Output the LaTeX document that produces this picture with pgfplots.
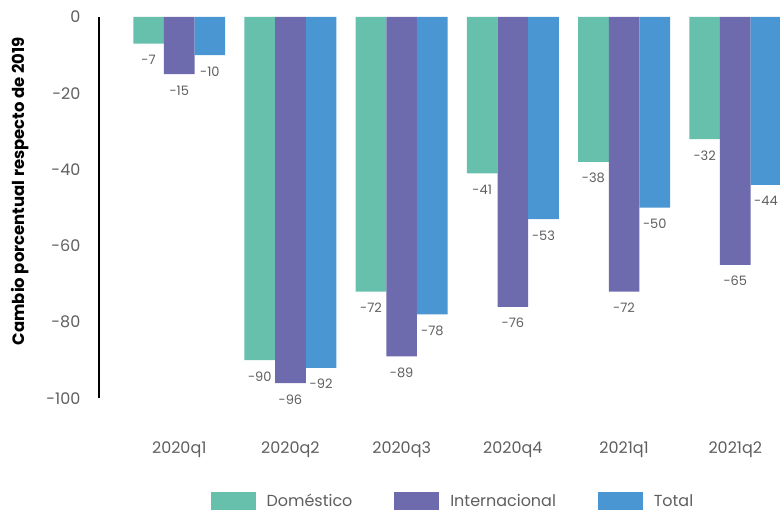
\documentclass[border=0pt]{standalone}
\usepackage{pgfplots}
\pgfplotsset{compat=1.18}
\usepackage{fontspec}
\setmainfont{Poppins}
\definecolor{cteal}{HTML}{66C0AC}
\definecolor{cpurple}{HTML}{6E6AAE}
\definecolor{cblue}{HTML}{4A96D2}
\definecolor{tgray}{HTML}{5F5F5F}
\begin{document}
\begin{tikzpicture}
\begin{axis}[
  name=ax,
  scale only axis, width=682pt, height=382pt,
  xmin=-0.723, xmax=5.40, ymin=-100, ymax=0,
  ybar=0pt, bar width=30.7pt,
  axis y line*=left, axis x line*=bottom,
  x axis line style={draw=none},
  y axis line style={line width=1.6pt, black, -},
  xtick={0,1,2,3,4,5},
  xticklabels={2020q1,2020q2,2020q3,2020q4,2021q1,2021q2},
  ytick={0,-20,-40,-60,-80,-100},
  major tick length=0pt,
  tick label style={font=\fontsize{16}{19}\selectfont, text=tgray},
  yticklabel style={xshift=-15pt},
  xticklabel style={yshift=-40pt},
  /pgf/number format/assume math mode=true,
  ylabel={Cambio porcentual respecto de 2019},
  every axis y label/.style={at={(axis description cs:-0.1158,0.543)}, rotate=90, anchor=center, font=\bfseries\fontsize{16.5}{18}\selectfont, text=black},
  nodes near coords,
  every node near coord/.append style={font=\fontsize{13}{15}\selectfont, text=tgray, anchor=north, yshift=-8pt},
  legend columns=3,
  legend style={at={(axis description cs:0.52,0)}, yshift=-103pt, anchor=center, draw=none, font=\fontsize{16}{19}\selectfont, text=tgray,
    /tikz/every even column/.append style={column sep=40pt},
    /tikz/every odd column/.append style={column sep=9pt}},
  legend cell align=left,
  legend image code/.code={\fill[#1] (0pt,-9pt) rectangle (45pt,9pt);},
]
\addplot[fill=cteal, draw=none] coordinates {(0,-7) (1,-90) (2,-72) (3,-41) (4,-38) (5,-32)};
\addplot[fill=cpurple, draw=none] coordinates {(0,-15) (1,-96) (2,-89) (3,-76) (4,-72) (5,-65)};
\addplot[fill=cblue, draw=none] coordinates {(0,-10) (1,-92) (2,-78) (3,-53) (4,-50) (5,-44)};
\legend{Doméstico, Internacional, Total}
\end{axis}
\path (ax.north west) ++(-99pt,17pt);
\path (ax.south west) ++(-99pt,-113pt);
\end{tikzpicture}
\end{document}
